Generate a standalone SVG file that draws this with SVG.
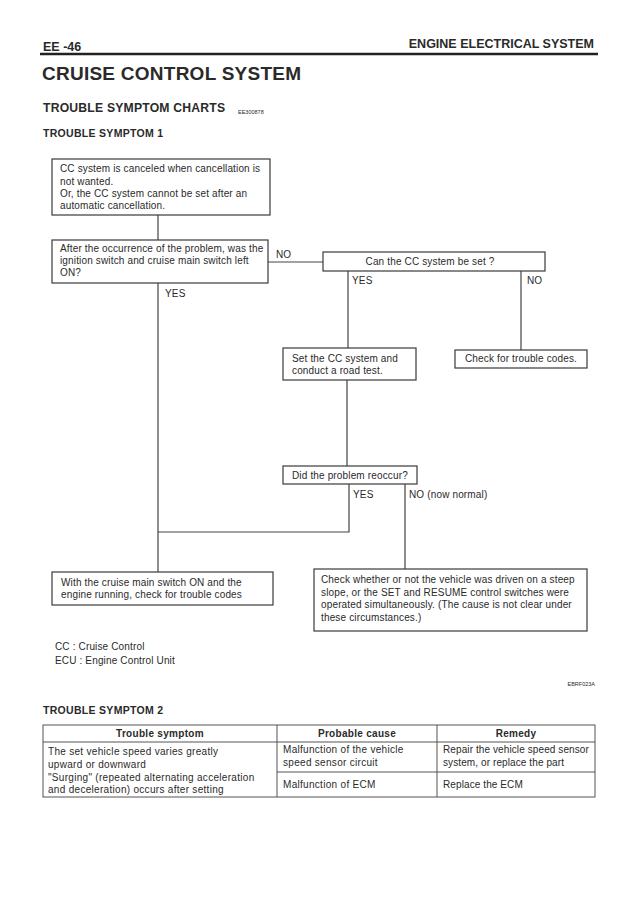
<svg xmlns="http://www.w3.org/2000/svg" width="638" height="902" viewBox="0 0 638 902">
<style>
text{font-family:"Liberation Sans",Arial,sans-serif;fill:#2a2a2a}
.t{font-size:10px;letter-spacing:0.15px}
.tt{font-size:10px;letter-spacing:0.3px}
.t3{font-size:10px;letter-spacing:0.1px}
.b{font-weight:bold}
.box{fill:#fff;stroke:#3a3a3a;stroke-width:1.2}
.ln{fill:none;stroke:#444;stroke-width:1.2}
.tb{fill:none;stroke:#555;stroke-width:1}
</style>
<rect width="638" height="902" fill="#fff"/>
<g id="header">
<text x="43" y="51" class="b" font-size="12.5">EE -46</text>
<text x="594" y="48" class="b" font-size="12.5" text-anchor="end">ENGINE ELECTRICAL SYSTEM</text>
<line x1="40" y1="54" x2="598" y2="54" stroke="#222" stroke-width="2.5"/>
<text x="42" y="80" class="b" font-size="19" letter-spacing="0.25">CRUISE CONTROL SYSTEM</text>
<text x="43" y="112" class="b" font-size="12.2" letter-spacing="0.2">TROUBLE SYMPTOM CHARTS</text>
<text x="238" y="114" font-size="5.5">EE300878</text>
<text x="43" y="137" class="b" font-size="10.5" letter-spacing="0.3">TROUBLE SYMPTOM 1</text>
</g>
<g id="connectors">
<line class="ln" x1="158" y1="215" x2="158" y2="240"/>
<line class="ln" x1="268" y1="262" x2="323" y2="262"/>
<line class="ln" x1="348" y1="271" x2="348" y2="348"/>
<line class="ln" x1="521" y1="271" x2="521" y2="350"/>
<line class="ln" x1="347" y1="380" x2="347" y2="466"/>
<polyline class="ln" points="349,484 349,532 158,532"/>
<line class="ln" x1="158" y1="283" x2="158" y2="572"/>
<line class="ln" x1="405" y1="484" x2="405" y2="569"/>
<text x="276" y="258" class="t">NO</text>
<text x="165" y="297" class="t">YES</text>
<text x="352" y="284" class="t">YES</text>
<text x="527" y="284" class="t">NO</text>
<text x="353" y="498" class="t">YES</text>
<text x="409" y="498" class="t">NO (now normal)</text>
</g>
<g id="n1">
<rect class="box" x="52" y="159" width="218" height="56"/>
<text class="t" x="60" y="172">CC system is canceled when cancellation is</text>
<text class="t" x="60" y="185">not wanted.</text>
<text class="t" x="60" y="197">Or, the CC system cannot be set after an</text>
<text class="t" x="60" y="209">automatic cancellation.</text>
</g>
<g id="n2">
<rect class="box" x="52" y="240" width="216" height="43"/>
<text class="t" x="60" y="252">After the occurrence of the problem, was the</text>
<text class="t" x="60" y="264">ignition switch and cruise main switch left</text>
<text class="t" x="60" y="276">ON?</text>
</g>
<g id="n3">
<rect class="box" x="323" y="252" width="222" height="19"/>
<text class="t" x="430" y="265" text-anchor="middle">Can the CC system be set ?</text>
</g>
<g id="n4">
<rect class="box" x="455" y="350" width="132" height="18"/>
<text class="t" x="465" y="362">Check for trouble codes.</text>
</g>
<g id="n5">
<rect class="box" x="283" y="348" width="133" height="32"/>
<text class="t" x="292" y="362">Set the CC system and</text>
<text class="t" x="292" y="374">conduct a road test.</text>
</g>
<g id="n6">
<rect class="box" x="283" y="466" width="134" height="18"/>
<text class="t" x="292" y="479">Did the problem reoccur?</text>
</g>
<g id="n7">
<rect class="box" x="52" y="572" width="221" height="33"/>
<text class="t" x="61" y="586">With the cruise main switch ON and the</text>
<text class="t" x="61" y="598">engine running, check for trouble codes</text>
</g>
<g id="n8">
<rect class="box" x="314" y="569" width="273" height="62"/>
<text class="t" x="321" y="583">Check whether or not the vehicle was driven on a steep</text>
<text class="t" x="321" y="596">slope, or the SET and RESUME control switches were</text>
<text class="t" x="321" y="608">operated simultaneously. (The cause is not clear under</text>
<text class="t" x="321" y="621">these circumstances.)</text>
</g>
<g id="notes">
<text class="t" x="55" y="650">CC : Cruise Control</text>
<text class="t" x="55" y="664">ECU : Engine Control Unit</text>
<text x="595" y="686" font-size="5.5" text-anchor="end">EBRF023A</text>
<text x="43" y="714" class="b" font-size="10.5" letter-spacing="0.3">TROUBLE SYMPTOM 2</text>
</g>
<g id="table">
<rect class="tb" x="43" y="725" width="552" height="72"/>
<line class="tb" x1="43" y1="742" x2="595" y2="742"/>
<line class="tb" x1="277" y1="725" x2="277" y2="797"/>
<line class="tb" x1="437" y1="725" x2="437" y2="797"/>
<line class="tb" x1="277" y1="772" x2="595" y2="772"/>
<text class="tt b" x="160" y="737" text-anchor="middle">Trouble symptom</text>
<text class="tt b" x="357" y="737" text-anchor="middle">Probable cause</text>
<text class="tt b" x="516" y="737" text-anchor="middle">Remedy</text>
<text class="tt" x="48" y="755">The set vehicle speed varies greatly</text>
<text class="tt" x="48" y="768">upward or downward</text>
<text class="tt" x="48" y="781">"Surging" (repeated alternating acceleration</text>
<text class="tt" x="48" y="793">and deceleration) occurs after setting</text>
<text class="tt" x="283" y="753">Malfunction of the vehicle</text>
<text class="tt" x="283" y="766">speed sensor circuit</text>
<text class="tt" x="283" y="788">Malfunction of ECM</text>
<text class="t3" x="443" y="753">Repair the vehicle speed sensor</text>
<text class="t3" x="443" y="766">system, or replace the part</text>
<text class="t3" x="443" y="788">Replace the ECM</text>
</g>
</svg>
